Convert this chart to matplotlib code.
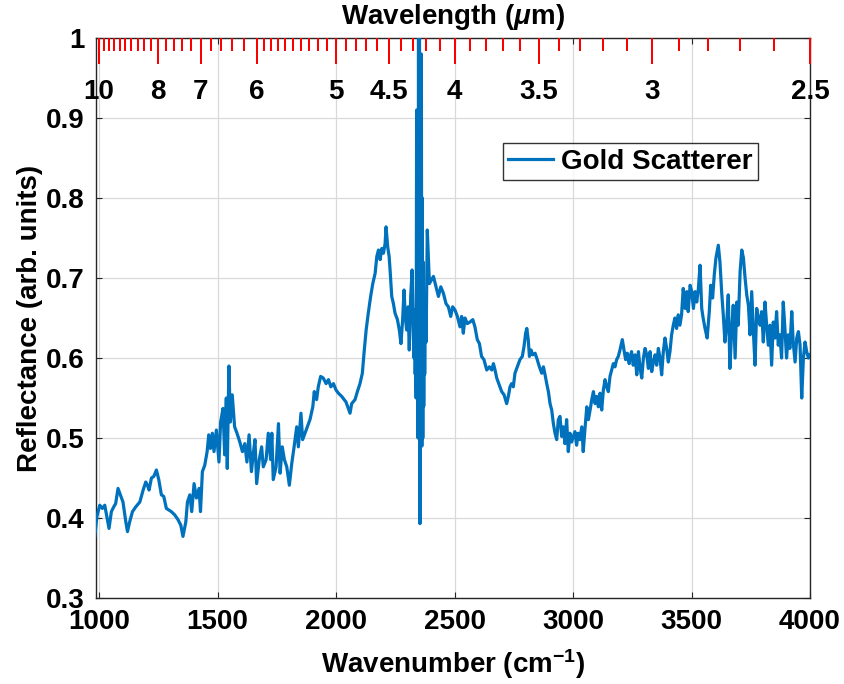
import numpy as np
import matplotlib
matplotlib.use("Agg")
import matplotlib.pyplot as plt
from matplotlib.ticker import FuncFormatter
import matplotlib.transforms as mtransforms

plt.rcParams['font.family'] = ['Liberation Sans', 'DejaVu Sans']
plt.rcParams['font.weight'] = 'bold'
plt.rcParams['mathtext.fontset'] = 'custom'
plt.rcParams['mathtext.rm'] = 'Liberation Sans:bold'
plt.rcParams['mathtext.bf'] = 'Liberation Sans:bold'
plt.rcParams['mathtext.it'] = 'Liberation Sans:italic'

# Gold scatterer reflectance spectrum
wavenumber = [
    982, 991, 1003, 1014, 1024, 1034, 1042, 1052, 1062, 1070, 1080, 1090, 1101, 1113, 1120, 1129,
    1141, 1155, 1172, 1186, 1197, 1204, 1211, 1221, 1231, 1242, 1252, 1263, 1273, 1284, 1305, 1319,
    1333, 1345, 1354, 1366, 1373, 1383, 1391, 1401, 1411, 1422, 1428, 1436, 1446, 1456, 1463, 1470,
    1478, 1485, 1495, 1506, 1513, 1523, 1530, 1537, 1541, 1548, 1554, 1562, 1572, 1582, 1594, 1605,
    1615, 1624, 1633, 1643, 1651, 1658, 1665, 1676, 1686, 1693, 1705, 1714, 1724, 1729, 1735, 1747,
    1757, 1764, 1773, 1782, 1792, 1803, 1813, 1823, 1834, 1841, 1852, 1859, 1869, 1879, 1890, 1902,
    1908, 1918, 1925, 1935, 1946, 1958, 1968, 1978, 1989, 2000, 2010, 2024, 2042, 2059, 2066, 2080,
    2090, 2101, 2111, 2118, 2127, 2136, 2146, 2155, 2165, 2172, 2179, 2186, 2193, 2200, 2207, 2211,
    2218, 2224, 2228, 2235, 2242, 2249, 2259, 2267, 2274, 2281, 2287, 2292, 2298, 2304, 2309, 2315,
    2321, 2326, 2329, 2331, 2334, 2336, 2338, 2340, 2342, 2344, 2346, 2348, 2350, 2352, 2354, 2356,
    2358, 2360, 2362, 2364, 2366, 2368, 2370, 2372, 2374, 2377, 2380, 2385, 2394, 2403, 2411, 2422,
    2432, 2442,
    2453, 2464, 2474, 2484, 2492, 2502, 2512, 2523, 2530, 2537, 2544, 2554, 2565, 2577, 2586, 2596,
    2605, 2614, 2624, 2636, 2647, 2657, 2664, 2671, 2678, 2689, 2699, 2709, 2720, 2727, 2734, 2741,
    2748, 2755, 2765, 2776, 2786, 2793, 2800, 2805, 2811, 2816, 2823, 2830, 2840, 2849, 2858, 2868,
    2875, 2882, 2889, 2896, 2903, 2910, 2917, 2924, 2931, 2938, 2945, 2952, 2959, 2966, 2973, 2980,
    2987, 2994, 3001, 3008, 3015, 3022, 3029, 3037, 3043, 3050, 3058, 3065, 3072, 3079, 3086, 3093,
    3100, 3107, 3114, 3121, 3128, 3135, 3142, 3149, 3156, 3163, 3170, 3177, 3184, 3191, 3198, 3208,
    3215, 3222, 3229, 3237, 3240, 3247, 3254, 3262, 3269, 3276, 3283, 3290, 3297, 3304, 3311, 3318,
    3325, 3332, 3339, 3346, 3353, 3360, 3367, 3374, 3381, 3388, 3395, 3402, 3409, 3416, 3423, 3430,
    3437, 3444, 3451, 3458, 3465, 3473, 3480, 3486, 3494, 3501, 3508, 3515, 3522, 3529, 3536, 3543,
    3549, 3557, 3566, 3575, 3581, 3589, 3596, 3603, 3613, 3620, 3627, 3634, 3641, 3648, 3655, 3662,
    3669, 3676, 3684, 3691, 3697, 3705, 3712, 3719, 3726, 3733, 3740, 3747, 3754, 3761, 3768, 3775,
    3782, 3789, 3796, 3803, 3810, 3817, 3824, 3831, 3838, 3845, 3852, 3859, 3866, 3873, 3880, 3887,
    3894, 3901, 3908, 3915, 3923, 3929, 3937, 3944, 3951, 3958, 3965, 3972, 3979, 3986, 3993, 4000,
]
reflectance = [
    0.377, 0.402, 0.416, 0.412, 0.416, 0.400, 0.387, 0.408, 0.414, 0.418, 0.437, 0.429, 0.420, 0.395, 0.383, 0.395,
    0.408, 0.414, 0.420, 0.435, 0.445, 0.441, 0.435, 0.450, 0.452, 0.460, 0.448, 0.429, 0.427, 0.412, 0.408, 0.404,
    0.398, 0.391, 0.377, 0.395, 0.420, 0.429, 0.408, 0.443, 0.425, 0.437, 0.408, 0.458, 0.466, 0.483, 0.504, 0.487,
    0.506, 0.483, 0.510, 0.470, 0.520, 0.537, 0.479, 0.550, 0.462, 0.590, 0.520, 0.554, 0.514, 0.506, 0.495, 0.483,
    0.493, 0.470, 0.504, 0.458, 0.481, 0.498, 0.443, 0.473, 0.489, 0.464, 0.473, 0.506, 0.473, 0.506, 0.448, 0.464,
    0.518, 0.456, 0.489, 0.473, 0.464, 0.441, 0.468, 0.489, 0.514, 0.489, 0.531, 0.498, 0.506, 0.514, 0.523, 0.539,
    0.558, 0.548, 0.564, 0.577, 0.575, 0.568, 0.573, 0.564, 0.568, 0.560, 0.556, 0.552, 0.545, 0.531, 0.543, 0.548,
    0.558, 0.568, 0.581, 0.606, 0.635, 0.656, 0.677, 0.693, 0.706, 0.727, 0.735, 0.723, 0.737, 0.731, 0.743, 0.764,
    0.739, 0.727, 0.710, 0.677, 0.668, 0.656, 0.648, 0.635, 0.618, 0.648, 0.685, 0.652, 0.635, 0.664, 0.610, 0.677,
    0.710, 0.635, 0.600, 0.660, 0.580, 0.620, 0.550, 0.910, 0.560, 0.850, 0.500, 1.020, 0.580, 1.020, 0.393, 0.950,
    0.520, 0.980, 0.490, 0.800, 0.500, 0.720, 0.540, 0.650, 0.580, 0.660, 0.620, 0.760, 0.693, 0.698, 0.702, 0.689,
    0.677, 0.689,
    0.681, 0.668, 0.664, 0.652, 0.664, 0.660, 0.652, 0.639, 0.652, 0.631, 0.650, 0.643, 0.645, 0.648, 0.639, 0.623,
    0.618, 0.602, 0.598, 0.585, 0.589, 0.585, 0.593, 0.585, 0.575, 0.566, 0.558, 0.554, 0.543, 0.552, 0.564, 0.568,
    0.564, 0.581, 0.589, 0.598, 0.602, 0.614, 0.631, 0.637, 0.623, 0.602, 0.610, 0.604, 0.606, 0.598, 0.589, 0.581,
    0.589, 0.579, 0.568, 0.558, 0.543, 0.535, 0.518, 0.506, 0.498, 0.523, 0.527, 0.502, 0.514, 0.493, 0.523, 0.483,
    0.506, 0.495, 0.502, 0.508, 0.491, 0.506, 0.498, 0.514, 0.483, 0.510, 0.539, 0.523, 0.535, 0.548, 0.558, 0.543,
    0.552, 0.539, 0.556, 0.535, 0.560, 0.573, 0.564, 0.558, 0.577, 0.585, 0.593, 0.589, 0.598, 0.602, 0.610, 0.623,
    0.610, 0.598, 0.606, 0.593, 0.600, 0.608, 0.591, 0.604, 0.579, 0.608, 0.587, 0.575, 0.600, 0.612, 0.604, 0.587,
    0.608, 0.583, 0.595, 0.604, 0.591, 0.612, 0.600, 0.579, 0.608, 0.625, 0.612, 0.595, 0.608, 0.629, 0.641, 0.650,
    0.637, 0.654, 0.641, 0.654, 0.687, 0.662, 0.683, 0.658, 0.691, 0.683, 0.662, 0.683, 0.670, 0.687, 0.716, 0.662,
    0.650, 0.637, 0.625, 0.658, 0.691, 0.675, 0.704, 0.725, 0.741, 0.720, 0.683, 0.654, 0.620, 0.641, 0.679, 0.587,
    0.633, 0.666, 0.600, 0.670, 0.641, 0.708, 0.735, 0.725, 0.700, 0.679, 0.666, 0.629, 0.683, 0.633, 0.591, 0.662,
    0.650, 0.641, 0.658, 0.620, 0.670, 0.641, 0.616, 0.641, 0.591, 0.645, 0.625, 0.658, 0.616, 0.629, 0.600, 0.670,
    0.637, 0.600, 0.629, 0.612, 0.658, 0.620, 0.595, 0.625, 0.633, 0.616, 0.550, 0.600, 0.620, 0.608, 0.600, 0.604,
]

x_ticks = [1000, 1500, 2000, 2500, 3000, 3500, 4000]
y_ticks = [0.3, 0.4, 0.5, 0.6, 0.7, 0.8, 0.9, 1.0]
wl_major = [10, 8, 7, 6, 5, 4.5, 4, 3.5, 3, 2.5]
wl_minor = [9.8, 9.6, 9.4, 9.2, 9.0, 8.8, 8.6, 8.4, 8.2,
            7.8, 7.6, 7.4, 7.2, 6.8, 6.6, 6.4, 6.2,
            5.9, 5.8, 5.7, 5.6, 5.5, 5.4, 5.3, 5.2, 5.1,
            4.9, 4.8, 4.7, 4.6, 4.4, 4.3, 4.2, 4.1,
            3.9, 3.8, 3.7, 3.6, 3.4, 3.3, 3.2, 3.1,
            2.9, 2.8, 2.7, 2.6]

FS = 20
dark = '#262626'
blue = '#0072BD'

fig = plt.figure(figsize=(8.45, 6.84), dpi=100)
ax = fig.add_axes([0.1133, 0.1257, 0.8453, 0.8187])

ax.plot(wavenumber, reflectance, color=blue, lw=2.3, label='Gold Scatterer', zorder=3)

ax.set_xlim(986, 4000)
ax.set_ylim(0.3, 1.0)
ax.set_xticks(x_ticks)
ax.set_yticks(y_ticks)
ax.yaxis.set_major_formatter(FuncFormatter(lambda v, p: f'{v:g}'))
ax.grid(True, color='#d9d9d9', lw=0.9, zorder=0)
ax.set_axisbelow(True)
for s in ax.spines.values():
    s.set_color(dark)
    s.set_linewidth(1.0)
ax.tick_params(direction='in', top=True, right=True, length=4.5, width=0.8,
               color=dark, labelsize=FS, labelcolor='black')
ax.tick_params(axis='x', pad=8)
ax.tick_params(axis='y', pad=8)
for lab in ax.get_xticklabels() + ax.get_yticklabels():
    lab.set_fontweight('bold')

ax.set_xlabel('Wavenumber (cm$^{-1}$)', fontsize=FS, fontweight='bold', labelpad=9)
ax.set_ylabel('Reflectance (arb. units)', fontsize=FS, fontweight='bold', labelpad=2)

# wavelength scale on top edge: red ticks hanging from the top spine
trans = mtransforms.blended_transform_factory(ax.transData, ax.transAxes)
ax_h = 560.0
ax.vlines([1e4 / w for w in wl_major], 1 - 26 / ax_h, 1.0, transform=trans,
          colors='#ff0000', lw=1.2, zorder=5, clip_on=False, antialiased=False)
ax.vlines([1e4 / w for w in wl_minor], 1 - 13 / ax_h, 1.0, transform=trans,
          colors='#ff0000', lw=1.2, zorder=5, clip_on=False, antialiased=False)
for lam in wl_major:
    ax.text(1e4 / lam, 1 - 54 / ax_h, f'{lam:g}', transform=trans, ha='center', va='center',
            fontsize=FS, fontweight='bold', clip_on=False, zorder=6)

fig.text(453 / 845, 1 - 17 / 684, 'Wavelength ($\\mu$m)', ha='center', va='center',
         fontsize=FS, fontweight='bold')

leg = ax.legend(loc='upper left', bbox_to_anchor=(0.570, 0.8125), fontsize=FS,
                frameon=True, fancybox=False, borderpad=0.2, handlelength=1.6,
                handletextpad=0.3, borderaxespad=0)
leg.get_frame().set_edgecolor('black')
leg.get_frame().set_linewidth(1.0)
for t in leg.get_texts():
    t.set_fontweight('bold')

fig.savefig('out.png', dpi=100)
